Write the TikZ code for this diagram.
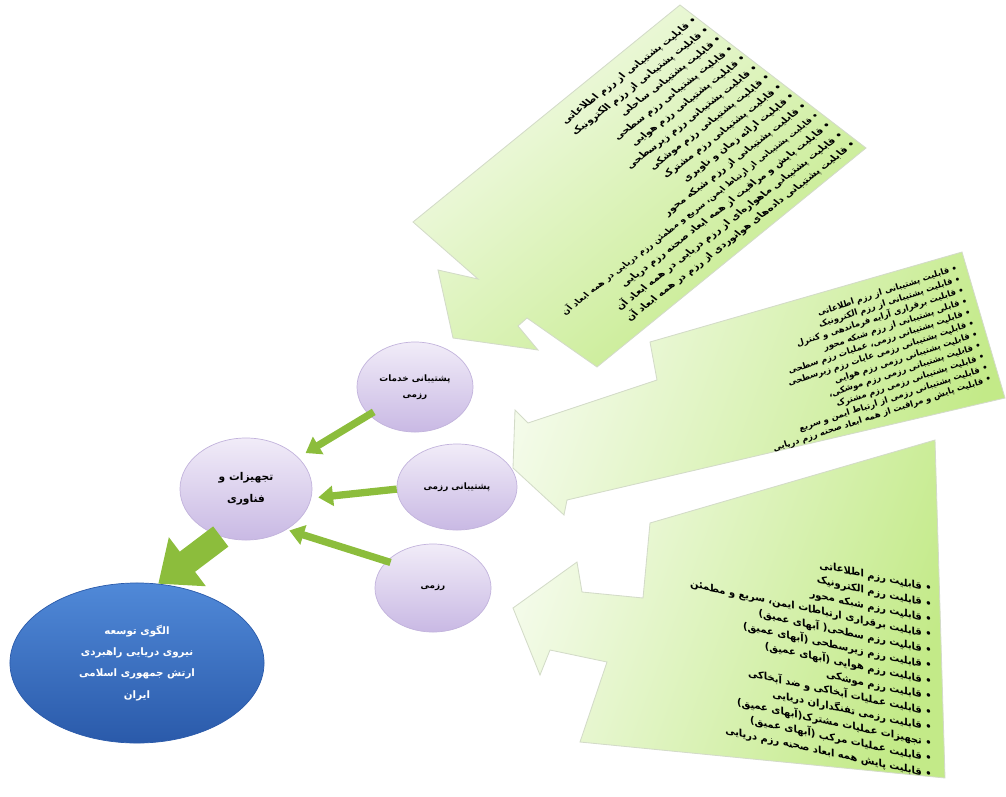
\documentclass[tikz,border=0pt]{standalone}
\usepackage{fontspec}
\usetikzlibrary{arrows.meta,shapes.geometric}
\newfontfamily\fa[Script=Arabic]{DejaVu Sans}
\TeXXeTstate=1
\newcommand\rtline[1]{\beginR #1\endR}
\definecolor{palegreen}{HTML}{F4FBEA}
\definecolor{callgreen}{HTML}{C3EA88}
\definecolor{calledge}{HTML}{D3DBC8}
\definecolor{lavtop}{HTML}{F1ECF8}
\definecolor{lavbot}{HTML}{C9B9E4}
\definecolor{lavedge}{HTML}{C2B3DC}
\definecolor{bluetop}{HTML}{5089D8}
\definecolor{bluebot}{HTML}{2A5AAA}
\definecolor{arrowgreen}{HTML}{8CBD3C}
\tikzset{
  callout/.style={draw=calledge, line width=0.6pt, top color=palegreen, bottom color=callgreen},
  lavcirc/.style={ellipse, draw=lavedge, line width=0.5pt, top color=lavtop, bottom color=lavbot,
    align=center, inner sep=0pt, font=\fa\bfseries\fontsize{6.3}{11}\selectfont},
  bluecirc/.style={ellipse, draw=bluebot, line width=0.5pt, top color=bluetop, bottom color=bluebot,
    align=center, inner sep=0pt, text=white, font=\fa\bfseries\fontsize{7.3}{15}\selectfont},
  smallarrow/.style={draw=arrowgreen, line width=5.2pt, -{Triangle[width=14pt,length=10.5pt]}},
  bigarrow/.style={draw=arrowgreen, line width=18pt, -{Triangle[width=42pt,length=26pt]}},
  listtext/.style={transform shape, anchor=north east, align=right, inner sep=0pt}
}
\begin{document}
\begin{tikzpicture}[x=0.025cm, y=-0.025cm]
\useasboundingbox (0,0) rectangle (1006,796);

% ---------- callouts ----------
\shade[callout, shading angle=40] (680,5) -- (866,148) -- (597,367) -- (527,318) -- (518,326)
  -- (538,350) -- (453,338) -- (438,270) -- (478,279) -- (413,222) -- cycle;
\shade[callout, shading angle=70] (650,342) -- (962,252) -- (1005,398) -- (567,500) -- (564,515)
  -- (513,468) -- (515,410) -- (528,423) -- (657,380) -- cycle;
\shade[callout, shading angle=70] (650,523) -- (935,440) -- (945,778) -- (580,742) -- (607,662)
  -- (550,650) -- (540,675) -- (513,608) -- (577,562) -- (582,592) -- (643,598) -- cycle;

% ---------- callout texts ----------
\begin{scope}[shift={(692,16)}, cm={0.788,0.616,-0.788,0.616,(0,0)}]
\node[listtext, font=\fa\bfseries\fontsize{6.9}{11}\selectfont] (toplist) at (0,0) {%
\rtline{• قابلیت پشتیبانی از رزم اطلاعاتی}\\
\rtline{• قابلیت پشتیبانی از رزم الکترونیک}\\
\rtline{• قابلیت پشتیبانی ساحلی}\\
\rtline{• قابلیت پشتیبانی رزم سطحی}\\
\rtline{• قابلیت پشتیبانی رزم هوایی}\\
\rtline{• قابلیت پشتیبانی رزم زیرسطحی}\\
\rtline{• قابلیت پشتیبانی رزم موشکی}\\
\rtline{• قابلیت پشتیبانی رزم مشترک}\\
\rtline{• قابلیت ارائه زمان و ناوبری}\\
\rtline{• قابلیت پشتیبانی از رزم شبکه محور}\\
{\fontsize{6}{11}\selectfont\rtline{• قابلیت پشتیبانی از ارتباط ایمن، سریع و مطمئن رزم دریایی در همه ابعاد آن}}\\
\rtline{• قابلیت پایش و مراقبت از همه ابعاد صحنه رزم دریایی}\\
\rtline{• قابلیت پشتیبانی ماهواره‌ای از رزم دریایی در همه ابعاد آن}\\
\rtline{• قابلیت پشتیبانی داده‌های هوانوردی از رزم در همه ابعاد آن}};
\end{scope}

\begin{scope}[shift={(956,264)}, cm={0.951,0.309,-0.296,0.957,(0,0)}]
\node[listtext, font=\fa\bfseries\fontsize{6}{8.2}\selectfont] (midlist) at (0,0) {%
\rtline{• قابلیت پشتیبانی از رزم اطلاعاتی}\\
\rtline{• قابلیت پشتیبانی از رزم الکترونیک}\\
\rtline{• قابلیت برقراری آرایه فرماندهی و کنترل}\\
\rtline{• قابلی پشتیبانی از رزم شبکه محور}\\
\rtline{• قابلیت پشتیبانی رزمی، عملیات رزم سطحی}\\
\rtline{• قابلیت پشتیبانی رزمی عایات رزم زیرسطحی}\\
\rtline{• قابلیت پشتیبانی رزمی رزم هوایی}\\
\rtline{• قابلیت پشتیبانی رزمی رزم موشکی،}\\
\rtline{• قابلیت پشتیبانی رزمی رزم مشترک}\\
\rtline{• قابلیت پشتیبانی رزمی از ارتباط ایمن و سریع}\\
\rtline{• قابلیت پایش و مراقبت از همه ابعاد صحنه رزم دریایی}};
\end{scope}

\begin{scope}[shift={(932,584)}, cm={0.978,-0.208,0,1,(0,0)}]
\node[listtext, font=\fa\bfseries\fontsize{7.2}{11}\selectfont] (botlist) at (0,0) {%
\rtline{• قابلیت رزم اطلاعاتی}\\
\rtline{• قابلیت رزم الکترونیک}\\
\rtline{• قابلیت رزم شبکه محور}\\
\rtline{• قابلیت برقراری ارتباطات ایمن، سریع و مطمئن}\\
\rtline{• قابلیت رزم سطحی( آبهای عمیق)}\\
\rtline{• قابلیت رزم زیرسطحی (آبهای عمیق)}\\
\rtline{• قابلیت رزم هوایی (آبهای عمیق)}\\
\rtline{• قابلیت رزم موشکی}\\
\rtline{• قابلیت عملیات آبخاکی و ضد آبخاکی}\\
\rtline{• قابلیت رزمی تفنگداران دریایی}\\
\rtline{• تجهیزات عملیات مشترک(آبهای عمیق)}\\
\rtline{• قابلیت عملیات مرکب (آبهای عمیق)}\\
\rtline{• قابلیت پایش همه ابعاد صحنه رزم دریایی}};
\end{scope}

% ---------- circles ----------
\node[lavcirc, minimum width=2.9cm, minimum height=2.25cm] (khad) at (415,387)
  {\rtline{پشتیبانی خدمات}\\\rtline{رزمی}};
\node[lavcirc, minimum width=3.0cm, minimum height=2.15cm] (supp) at (457,487)
  {\rtline{پشتیبانی رزمی}};
\node[lavcirc, minimum width=2.9cm, minimum height=2.2cm] (razm) at (433,588)
  {\rtline{رزمی}};
\node[lavcirc, minimum width=3.3cm, minimum height=2.55cm, font=\fa\bfseries\fontsize{7.6}{15.6}\selectfont] (tech) at (246,489)
  {\rtline{تجهیزات و}\\\rtline{فناوری}};
\node[bluecirc, minimum width=6.35cm, minimum height=4.0cm] (goal) at (137,663)
  {\rtline{الگوی توسعه}\\\rtline{نیروی دریایی راهبردی}\\\rtline{ارتش جمهوری اسلامی}\\\rtline{ایران}};

% ---------- arrows ----------
\draw[smallarrow, shorten <=-4pt, shorten >=6pt] (khad) -- (tech);
\draw[smallarrow, shorten >=5pt] (supp.182) -- (tech.-8);
\draw[smallarrow, shorten <=-3pt, shorten >=2pt] (razm.150) -- (tech.-45);
\draw[bigarrow] (tech.-118) -- (goal.75);
\end{tikzpicture}
\end{document}
